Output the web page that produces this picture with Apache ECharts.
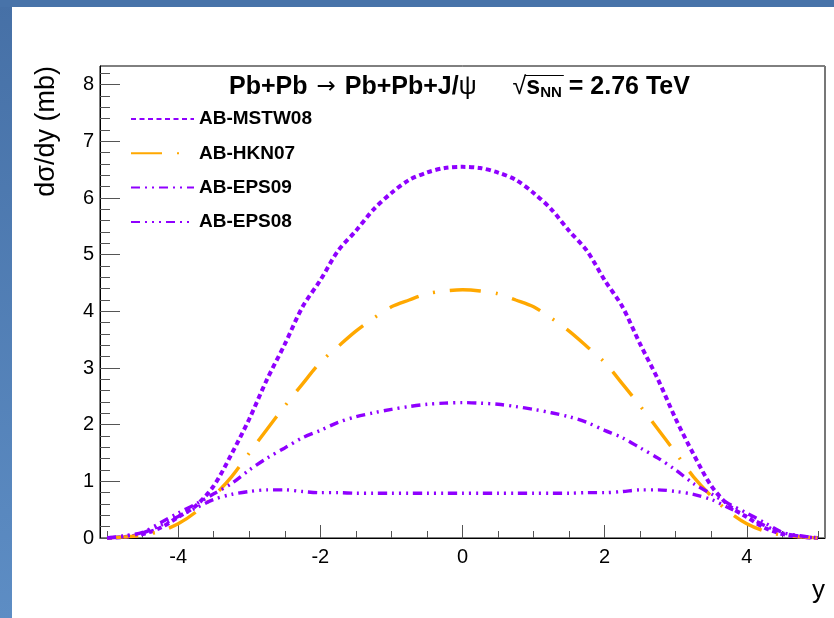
<!DOCTYPE html>
<html><head><meta charset="utf-8">
<script src="https://cdn.jsdelivr.net/npm/echarts@6/dist/echarts.min.js"></script>
<style>html,body{margin:0;padding:0;background:#fff}#c{width:834px;height:618px}</style>
</head><body><div id="c"></div>
<script>
const rapidity = [-5,-4.75,-4.5,-4.25,-4,-3.75,-3.5,-3.25,-3,-2.75,-2.5,-2.25,-2,-1.75,-1.5,-1.25,-1,-0.75,-0.5,-0.25,0,0.25,0.5,0.75,1,1.25,1.5,1.75,2,2.25,2.5,2.75,3,3.25,3.5,3.75,4,4.25,4.5,4.75,5];
const mstw08 = [0,0.02,0.07,0.18,0.37,0.57,0.92,1.48,2.1,2.8,3.42,4.08,4.55,5.07,5.42,5.8,6.09,6.32,6.45,6.53,6.55,6.53,6.45,6.32,6.09,5.8,5.42,5.07,4.55,4.08,3.42,2.8,2.1,1.48,0.92,0.57,0.37,0.18,0.07,0.02,0];
const hkn07 = [0,0.02,0.05,0.12,0.25,0.46,0.74,1.08,1.5,1.92,2.33,2.72,3.1,3.38,3.65,3.88,4.08,4.2,4.31,4.36,4.38,4.36,4.31,4.2,4.08,3.88,3.65,3.38,3.1,2.72,2.33,1.92,1.5,1.08,0.74,0.46,0.25,0.12,0.05,0.02,0];
const eps09 = [0,0.04,0.1,0.27,0.44,0.6,0.78,0.96,1.2,1.41,1.59,1.77,1.9,2.04,2.14,2.21,2.27,2.32,2.36,2.38,2.39,2.38,2.36,2.32,2.27,2.21,2.14,2.04,1.9,1.77,1.59,1.41,1.2,0.96,0.78,0.6,0.44,0.27,0.1,0.04,0];
const eps08 = [0,0.03,0.09,0.22,0.38,0.53,0.68,0.77,0.82,0.85,0.85,0.82,0.8,0.8,0.79,0.79,0.79,0.79,0.79,0.79,0.79,0.79,0.79,0.79,0.79,0.79,0.79,0.8,0.8,0.82,0.85,0.85,0.82,0.77,0.68,0.53,0.38,0.22,0.09,0.03,0];
const seriesNames = ['AB-MSTW08','AB-HKN07','AB-EPS09','AB-EPS08'];
const xMajorTicks = [-4,-2,0,2,4];
const xMinorTicks = [-5,-4.5,-4,-3.5,-3,-2.5,-2,-1.5,-1,-0.5,0,0.5,1,1.5,2,2.5,3,3.5,4,4.5,5];
const yMajorTicks = [0,1,2,3,4,5,6,7,8];
const yMinorTicks = [0.2,0.4,0.6,0.8,1.2,1.4,1.6,1.8,2.2,2.4,2.6,2.8,3.2,3.4,3.6,3.8,4.2,4.4,4.6,4.8,5.2,5.4,5.6,5.8,6.2,6.4,6.6,6.8,7.2,7.4,7.6,7.8,8.2];

const FONT = '"Liberation Sans", Arial, Helvetica, sans-serif';
const SYMFONT = '"DejaVu Sans", sans-serif';
const PURPLE = '#8f00ff';
const ORANGE = '#ffa800';
const pairs = vals => rapidity.map((x, i) => [x, vals[i]]);
const grid = {left: 100, top: 66, right: 9, bottom: 80};
const X_MIN = -5.1, X_MAX = 5.1, Y_MIN = 0, Y_MAX = 8.33;

// title layout helpers (for the radical's overline)
const TS = 25, SUBS = 15, TITLE_LEFT = 229, TITLE_TOP = 72, ARROW_PAD = 9, SQRT_PAD = 36;
const mctx = document.createElement('canvas').getContext('2d');
function tw(t, size, weight, fam) { mctx.font = weight + ' ' + size + 'px ' + (fam || FONT); return mctx.measureText(t).width; }
const sqrtEnd = TITLE_LEFT + tw('Pb+Pb', TS, 'bold') + 2 * ARROW_PAD + tw('→', TS - 2, 'normal', SYMFONT) +
  tw('Pb+Pb+J/', TS, 'bold') + tw('ψ', TS, 'normal') + SQRT_PAD + tw('√', TS, 'normal');
const barEnd = sqrtEnd + tw('s', TS, 'bold') + tw('NN', SUBS, 'bold') + 2;

const chart = echarts.init(document.getElementById('c'), null, {renderer: 'canvas'});
const mk = (name, vals, color, dash, width) => ({
  name, type: 'line', xAxisIndex: 0, yAxisIndex: 0,
  data: pairs(vals), smooth: 0.3, showSymbol: false, symbol: 'none',
  lineStyle: {color, width, type: dash}, itemStyle: {color},
  animation: false, z: 3
});
const tokBase = {fontFamily: FONT, fontSize: TS, color: '#000', lineHeight: 30};
chart.setOption({
  backgroundColor: '#fff',
  animation: false,
  graphic: [
    {type: 'rect', shape: {x: 0, y: 0, width: 12, height: 618}, z: 100,
     style: {fill: new echarts.graphic.LinearGradient(0, 0, 0, 1, [{offset: 0, color: '#4670a6'}, {offset: 1, color: '#5d8dc4'}])}},
    {type: 'rect', shape: {x: 0, y: 0, width: 834, height: 7}, z: 100, style: {fill: '#4873a9'}},
    {type: 'line', shape: {x1: sqrtEnd - 1.5, y1: TITLE_TOP + 3.5, x2: barEnd, y2: TITLE_TOP + 3.5}, z: 100, style: {stroke: '#000', lineWidth: 1}},
    {type: 'line', shape: {x1: 825, y1: 66, x2: 825, y2: 538}, z: 100, style: {stroke: '#777', lineWidth: 2}}
  ],
  title: {
    left: TITLE_LEFT, top: TITLE_TOP, padding: 0,
    text: '{b|Pb+Pb}{ar|→}{b|Pb+Pb+J/}{n|ψ}{sq|√}{b|s}{sub|NN}{b| = 2.76 TeV}',
    textStyle: {rich: {
      b: Object.assign({}, tokBase, {fontWeight: 'bold'}),
      n: Object.assign({}, tokBase, {fontWeight: 'normal'}),
      ar: Object.assign({}, tokBase, {fontFamily: SYMFONT, fontSize: TS - 2, fontWeight: 'normal', padding: [0, ARROW_PAD, 0, ARROW_PAD]}),
      sq: Object.assign({}, tokBase, {fontWeight: 'normal', padding: [0, 0, 0, SQRT_PAD]}),
      sub: {fontFamily: FONT, fontWeight: 'bold', fontSize: SUBS, color: '#000', lineHeight: 18, padding: [12, 0, 0, 0]}
    }}
  },
  legend: {
    orient: 'vertical', left: 130, top: 109, padding: 0,
    itemWidth: 63, itemHeight: 20, itemGap: 14.3,
    data: seriesNames,
    itemStyle: {opacity: 0, borderWidth: 0},
    textStyle: {fontFamily: FONT, fontWeight: 'bold', fontSize: 19, color: '#000', lineHeight: 20}
  },
  grid: [
    Object.assign({show: true, borderColor: '#000', borderWidth: 1, backgroundColor: '#fff'}, grid),
    Object.assign({show: false}, grid)
  ],
  xAxis: [
    {type: 'value', gridIndex: 0, min: X_MIN, max: X_MAX,
     name: 'y', nameLocation: 'end', nameGap: 0,
     nameTextStyle: {fontFamily: FONT, fontSize: 26, color: '#000', align: 'right', verticalAlign: 'top', padding: [40, 0, 0, 0]},
     axisLine: {show: true, onZero: false, lineStyle: {color: '#000', width: 1}},
     axisTick: {show: true, inside: true, length: 13, customValues: xMajorTicks, lineStyle: {color: '#555'}},
     axisLabel: {customValues: xMajorTicks, fontFamily: FONT, fontSize: 20, color: '#000', margin: 9},
     splitLine: {show: false}},
    {type: 'value', gridIndex: 1, min: X_MIN, max: X_MAX,
     axisLine: {show: false, onZero: false},
     axisTick: {show: true, inside: true, length: 7, customValues: xMinorTicks, lineStyle: {color: '#555'}},
     axisLabel: {show: false}, splitLine: {show: false}}
  ],
  yAxis: [
    {type: 'value', gridIndex: 0, min: Y_MIN, max: Y_MAX,
     name: 'dσ/dy (mb)', nameLocation: 'end', nameGap: 0, nameRotate: 90,
     nameTextStyle: {fontFamily: FONT, fontSize: 27, color: '#000', align: 'right', verticalAlign: 'bottom', padding: [0, 0, 40, 0]},
     axisLine: {show: true, onZero: false, lineStyle: {color: '#000', width: 1}},
     axisTick: {show: true, inside: true, length: 20, customValues: yMajorTicks, lineStyle: {color: '#555'}},
     axisLabel: {customValues: yMajorTicks, fontFamily: FONT, fontSize: 20, color: '#000', margin: 6},
     splitLine: {show: false}},
    {type: 'value', gridIndex: 1, min: Y_MIN, max: Y_MAX,
     axisLine: {show: false, onZero: false},
     axisTick: {show: true, inside: true, length: 10, customValues: yMinorTicks, lineStyle: {color: '#555'}},
     axisLabel: {show: false}, splitLine: {show: false}}
  ],
  series: [
    mk(seriesNames[0], mstw08, PURPLE, [5, 3.5], 4),
    mk(seriesNames[1], hkn07, ORANGE, [31, 15, 2, 15], 3.4),
    mk(seriesNames[2], eps09, PURPLE, [9, 5, 2, 5, 2, 5], 3.4),
    mk(seriesNames[3], eps08, PURPLE, [9, 5, 2, 5, 2, 5, 2, 5], 3.4)
  ]
});
</script></body></html>
